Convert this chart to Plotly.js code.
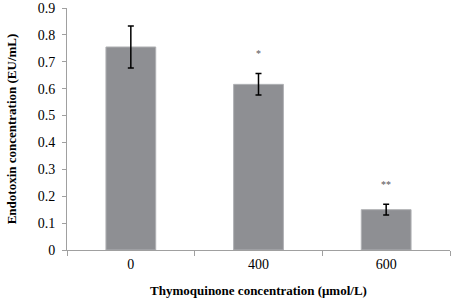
<!DOCTYPE html>
<html><head><meta charset="utf-8">
<script src="https://cdn.plot.ly/plotly-3.0.1.min.js"></script>
<style>html,body{margin:0;padding:0;background:#fff}#chart{width:454px;height:301px}</style>
</head><body><div id="chart"></div>
<script>
const categories = ["0", "400", "600"];
const values = [0.755, 0.616, 0.150];
const errors = [0.078, 0.040, 0.020];
const significance = ["", "*", "**"];

const serif = "'Liberation Serif', 'Times New Roman', Times, serif";

const trace = {
  type: "bar",
  x: categories,
  y: values,
  marker: {color: "#8e8f93", line: {color: "#b0b1b4", width: 1}},
  error_y: {type: "data", array: errors, visible: true, color: "#000", thickness: 1.5, width: 3},
  hoverinfo: "skip"
};

const annotations = categories.map((c, i) => ({
  x: i, y: values[i] + errors[i], xref: "x", yref: "y",
  text: significance[i], showarrow: false, yshift: 20,
  font: {family: serif, size: 10, color: "#555"}
})).filter(a => a.text);

const layout = {
  width: 454, height: 301,
  margin: {l: 67, r: 4, t: 7.5, b: 51},
  paper_bgcolor: "#fff", plot_bgcolor: "#fff",
  showlegend: false,
  bargap: 0.61,
  font: {family: serif, color: "#000"},
  xaxis: {
    type: "category", range: [-0.5, 2.5], autorange: false,
    categoryorder: "array", categoryarray: categories,
    tickson: "boundaries", ticks: "outside", ticklen: 5, tickcolor: "#a0a0a0",
    showline: true, linecolor: "#a0a0a0", linewidth: 1,
    tickfont: {family: serif, size: 14, color: "#000"},
    ticklabelstandoff: 1,
    title: {text: "<b>Thymoquinone concentration (μmol/L)</b>", font: {family: serif, size: 13, color: "#000"}, standoff: 15},
    showgrid: false, zeroline: false
  },
  yaxis: {
    range: [0, 0.9], autorange: false, dtick: 0.1, tick0: 0,
    ticks: "outside", ticklen: 4, tickcolor: "#a0a0a0",
    showline: true, linecolor: "#a0a0a0", linewidth: 1,
    tickfont: {family: serif, size: 14, color: "#000"},
    ticklabelstandoff: 4,
    title: {text: "<b>Endotoxin concentration (EU/mL)</b>", font: {family: serif, size: 13, color: "#000"}, standoff: 18},
    showgrid: false, zeroline: false
  },
  annotations: annotations
};

Plotly.newPlot("chart", [trace], layout, {displayModeBar: false, staticPlot: true});
</script></body></html>
